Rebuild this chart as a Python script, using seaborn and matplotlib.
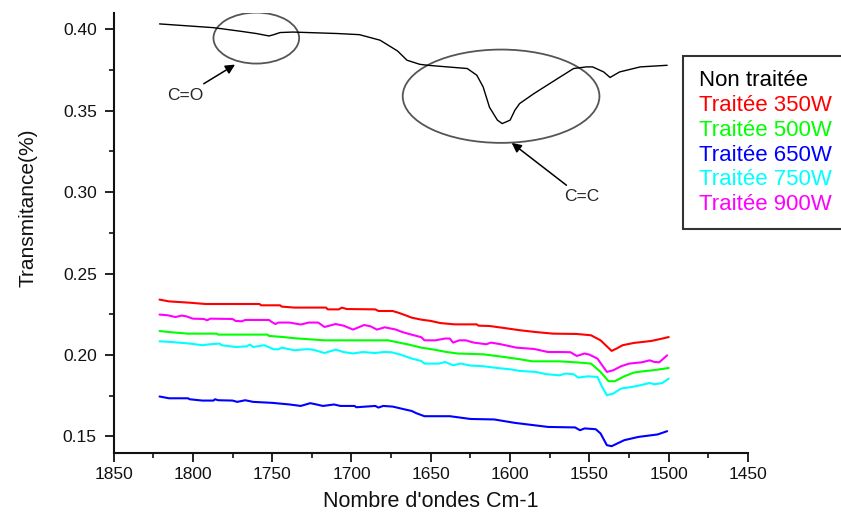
import matplotlib
matplotlib.use("Agg")
import matplotlib.pyplot as plt
import pandas as pd
import seaborn as sns
from matplotlib.patches import Ellipse
from matplotlib.lines import Line2D
from matplotlib.ticker import MultipleLocator, FormatStrFormatter

# FTIR spectra, 1820-1500 cm-1: wavenumber (cm-1) and transmittance
wn_raw = [1821, 1787, 1770, 1760, 1752, 1749, 1745, 1737, 1709, 1695, 1682, 1671,
          1665, 1657, 1652, 1627, 1621, 1617, 1613, 1608, 1605, 1600, 1597, 1594,
          1585, 1575, 1560, 1552, 1548, 1541, 1537, 1531, 1518, 1501]
t_raw = [0.4033, 0.4010, 0.3988, 0.3974, 0.3959, 0.3967, 0.3980, 0.3983, 0.3974,
         0.3967, 0.3933, 0.3867, 0.3810, 0.3785, 0.3779, 0.3759, 0.3718, 0.3646,
         0.3521, 0.3442, 0.3421, 0.3442, 0.3503, 0.3544, 0.3605, 0.3667, 0.3759,
         0.3769, 0.3769, 0.3738, 0.3704, 0.3738, 0.3769, 0.3779]

wn_350 = [1821, 1815, 1802, 1792, 1758, 1757, 1745, 1744, 1736, 1716, 1715, 1708,
          1706, 1703, 1685, 1683, 1674, 1670, 1666, 1662, 1656, 1650, 1644, 1635,
          1621, 1620, 1613, 1604, 1594, 1584, 1573, 1558, 1549, 1543, 1536, 1533,
          1529, 1522, 1511, 1504, 1500]
t_350 = [0.2340, 0.2329, 0.2321, 0.2313, 0.2313, 0.2305, 0.2305, 0.2297, 0.2291,
         0.2291, 0.2280, 0.2280, 0.2291, 0.2282, 0.2280, 0.2270, 0.2270, 0.2258,
         0.2244, 0.2229, 0.2217, 0.2209, 0.2196, 0.2188, 0.2188, 0.2180, 0.2178,
         0.2166, 0.2152, 0.2141, 0.2131, 0.2129, 0.2121, 0.2090, 0.2025, 0.2039,
         0.2060, 0.2074, 0.2086, 0.2101, 0.2110]

wn_500 = [1821, 1813, 1803, 1785, 1784, 1753, 1752, 1743, 1735, 1717, 1677, 1670,
          1664, 1656, 1648, 1640, 1633, 1617, 1604, 1594, 1586, 1569, 1556, 1549,
          1543, 1538, 1534, 1528, 1522, 1516, 1510, 1500]
t_500 = [0.2147, 0.2139, 0.2131, 0.2131, 0.2125, 0.2125, 0.2117, 0.2110, 0.2102,
         0.2090, 0.2090, 0.2076, 0.2064, 0.2045, 0.2033, 0.2018, 0.2009, 0.2004,
         0.1988, 0.1974, 0.1961, 0.1961, 0.1953, 0.1947, 0.1896, 0.1839, 0.1839,
         0.1869, 0.1892, 0.1900, 0.1906, 0.1920]

wn_650 = [1821, 1815, 1803, 1802, 1794, 1787, 1786, 1784, 1775, 1772, 1767, 1762,
          1750, 1739, 1732, 1726, 1722, 1718, 1711, 1707, 1698, 1697, 1685, 1683,
          1680, 1674, 1667, 1662, 1659, 1654, 1638, 1625, 1610, 1597, 1576, 1559,
          1556, 1553, 1546, 1543, 1539, 1536, 1528, 1519, 1507, 1501]
t_650 = [0.1745, 0.1734, 0.1734, 0.1728, 0.1720, 0.1720, 0.1728, 0.1722, 0.1720,
         0.1712, 0.1722, 0.1712, 0.1706, 0.1696, 0.1687, 0.1704, 0.1696, 0.1687,
         0.1696, 0.1687, 0.1687, 0.1679, 0.1687, 0.1677, 0.1687, 0.1683, 0.1667,
         0.1656, 0.1642, 0.1624, 0.1624, 0.1607, 0.1604, 0.1583, 0.1558, 0.1555,
         0.1538, 0.1549, 0.1544, 0.1518, 0.1446, 0.1440, 0.1477, 0.1497, 0.1512,
         0.1532]

wn_750 = [1821, 1814, 1802, 1794, 1789, 1783, 1782, 1773, 1766, 1764, 1762, 1755,
          1749, 1746, 1744, 1739, 1736, 1729, 1726, 1723, 1717, 1710, 1705, 1699,
          1693, 1685, 1680, 1675, 1669, 1662, 1656, 1654, 1645, 1641, 1636, 1631,
          1625, 1617, 1608, 1600, 1594, 1584, 1577, 1569, 1565, 1560, 1557, 1551,
          1545, 1542, 1539, 1535, 1530, 1523, 1518, 1512, 1509, 1504, 1500]
t_750 = [0.2084, 0.2080, 0.2070, 0.2060, 0.2066, 0.2070, 0.2060, 0.2049, 0.2053,
         0.2064, 0.2049, 0.2060, 0.2035, 0.2035, 0.2045, 0.2035, 0.2029, 0.2035,
         0.2035, 0.2029, 0.2012, 0.2033, 0.2018, 0.2009, 0.2018, 0.2012, 0.2018,
         0.2017, 0.2002, 0.1978, 0.1963, 0.1947, 0.1947, 0.1957, 0.1937, 0.1947,
         0.1935, 0.1931, 0.1920, 0.1912, 0.1902, 0.1896, 0.1882, 0.1875, 0.1886,
         0.1882, 0.1861, 0.1869, 0.1865, 0.1804, 0.1753, 0.1763, 0.1794, 0.1804,
         0.1814, 0.1828, 0.1820, 0.1828, 0.1855]

wn_900 = [1821, 1816, 1811, 1807, 1804, 1800, 1793, 1791, 1789, 1775, 1773, 1769,
          1767, 1752, 1750, 1748, 1746, 1739, 1732, 1727, 1721, 1717, 1710, 1705,
          1699, 1692, 1688, 1684, 1679, 1672, 1668, 1663, 1656, 1654, 1647, 1641,
          1638, 1636, 1632, 1628, 1623, 1615, 1612, 1606, 1596, 1585, 1576, 1568,
          1562, 1558, 1553, 1550, 1545, 1539, 1535, 1530, 1525, 1517, 1512, 1509,
          1506, 1501]
t_900 = [0.2248, 0.2244, 0.2233, 0.2242, 0.2237, 0.2223, 0.2221, 0.2213, 0.2223,
         0.2221, 0.2209, 0.2207, 0.2215, 0.2215, 0.2201, 0.2190, 0.2199, 0.2199,
         0.2187, 0.2199, 0.2199, 0.2172, 0.2190, 0.2180, 0.2156, 0.2184, 0.2176,
         0.2156, 0.2170, 0.2156, 0.2141, 0.2127, 0.2109, 0.2090, 0.2090, 0.2101,
         0.2101, 0.2076, 0.2090, 0.2090, 0.2076, 0.2066, 0.2076, 0.2066, 0.2045,
         0.2037, 0.2018, 0.2018, 0.2017, 0.1994, 0.2009, 0.2002, 0.1978, 0.1896,
         0.1906, 0.1931, 0.1947, 0.1955, 0.1967, 0.1957, 0.1955, 0.1998]

labels = ["Non traitée", "Traitée 350W", "Traitée 500W",
          "Traitée 650W", "Traitée 750W", "Traitée 900W"]
colors = ["#000000", "#ff0000", "#00ff00", "#0000ff", "#00ffff", "#ff00ff"]
series_wn = [wn_raw, wn_350, wn_500, wn_650, wn_750, wn_900]
series_t = [t_raw, t_350, t_500, t_650, t_750, t_900]

x_ticks = [1850, 1800, 1750, 1700, 1650, 1600, 1550, 1500, 1450]
y_ticks = [0.15, 0.20, 0.25, 0.30, 0.35, 0.40]

frames = []
for name, w, t in zip(labels, series_wn, series_t):
    frames.append(pd.DataFrame({"wn": w, "T": t, "sample": name}))
df = pd.concat(frames, ignore_index=True)

sns.set_style("ticks")
plt.rcParams["font.family"] = ["Liberation Sans", "DejaVu Sans"]

fig = plt.figure(figsize=(8.41, 5.18), dpi=100)
ax = fig.add_axes([0.1350, 0.1261, 0.7545, 0.8488])

for name, col in zip(labels, colors):
    sub = df[df["sample"] == name]
    sns.lineplot(data=sub, x="wn", y="T", color=col, estimator=None,
                 linewidth=1.0 if name == labels[0] else 1.5, ax=ax)

ax.set_xlim(x_ticks[0], x_ticks[-1])
ax.set_ylim(0.14, 0.41)
ax.set_xticks(x_ticks)
ax.set_yticks(y_ticks)
ax.xaxis.set_minor_locator(MultipleLocator(25))
ax.yaxis.set_minor_locator(MultipleLocator(0.025))
ax.yaxis.set_major_formatter(FormatStrFormatter("%.2f"))

for side in ("top", "right"):
    ax.spines[side].set_visible(False)
for side in ("left", "bottom"):
    ax.spines[side].set_linewidth(1.5)
    ax.spines[side].set_color("#111111")

ax.tick_params(axis="both", which="major", direction="out", length=6.5,
               width=1.3, labelsize=12.5, colors="#111111")
ax.tick_params(axis="both", which="minor", direction="out", length=3.8,
               width=1.2, colors="#111111")
ax.tick_params(axis="y", which="major", pad=5.5)
ax.tick_params(axis="x", which="major", pad=4)

ax.set_xlabel("Nombre d'ondes Cm-1", fontsize=15.5, color="#111111")
ax.set_ylabel("Transmitance(%)", fontsize=15, color="#111111")
ax.xaxis.set_label_coords(0.5, -0.087)
ax.yaxis.set_label_coords(-0.12, 0.558)

# band markers
ax.add_patch(Ellipse((1760, 0.3946), width=54, height=0.0313, fill=False,
                     edgecolor="#555555", linewidth=1.3))
ax.add_patch(Ellipse((1605.7, 0.3589), width=124, height=0.0573, fill=False,
                     edgecolor="#555555", linewidth=1.3))

arrow = dict(arrowstyle="-|>", color="black", lw=1.1, mutation_scale=14,
             shrinkA=1, shrinkB=0)
ax.annotate("C=O", xy=(1773.4, 0.3783), xytext=(1805, 0.3595),
            ha="center", va="center", fontsize=12.5, arrowprops=arrow)
ax.annotate("C=C", xy=(1599, 0.3302), xytext=(1555, 0.2971),
            ha="center", va="center", fontsize=12.5, arrowprops=arrow)

handles = [Line2D([], [], linestyle="none") for _ in labels]
leg = ax.legend(handles, labels, loc="upper left",
                bbox_to_anchor=(683 / 841, 1 - 56 / 518),
                bbox_transform=fig.transFigure, borderaxespad=0,
                fontsize=16, labelcolor=colors, handlelength=0,
                handletextpad=0.1, borderpad=0.64, labelspacing=0.17,
                fancybox=False, framealpha=1, edgecolor="#333333")
leg.get_frame().set_linewidth(1.5)

fig.savefig("out.png", dpi=100)
